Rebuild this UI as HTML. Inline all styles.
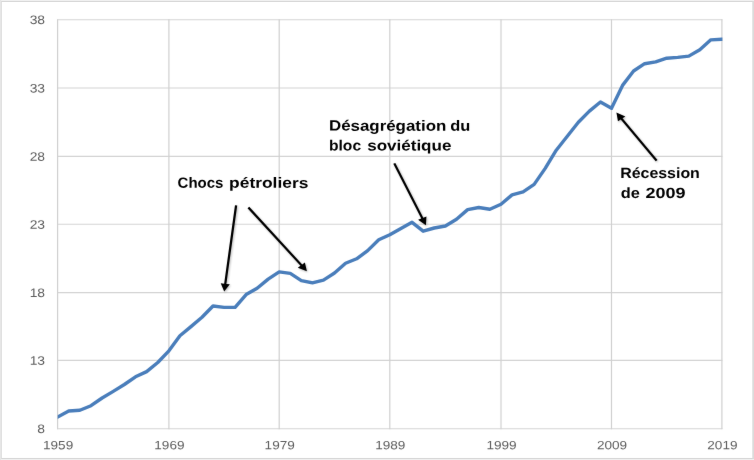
<!DOCTYPE html>
<html lang="fr">
<head>
<meta charset="utf-8">
<title>Émissions mondiales de CO2, 1959-2019</title>
<style>
html,body{margin:0;padding:0;background:#fff;}
body{width:754px;height:460px;overflow:hidden;}
svg{display:block;}
.ax{font-family:"Liberation Sans",sans-serif;font-size:12.0px;fill:#5e5e5e;}
.an{font-family:"Liberation Sans",sans-serif;font-weight:bold;fill:#000;}
</style>
</head>
<body>
<svg width="754" height="460" viewBox="0 0 754 460">
<defs><filter id="soft" x="0" y="0" width="754" height="460" filterUnits="userSpaceOnUse" color-interpolation-filters="sRGB"><feConvolveMatrix order="3" kernelMatrix="0.0025 0.0450 0.0025 0.0450 0.8100 0.0450 0.0025 0.0450 0.0025" divisor="1" edgeMode="duplicate" preserveAlpha="false"/></filter>
<filter id="shadow" x="0" y="0" width="754" height="460" filterUnits="userSpaceOnUse"><feGaussianBlur stdDeviation="1.3"/></filter>
<clipPath id="plot"><rect x="57.70" y="0" width="664.70" height="460"/></clipPath></defs>
<rect x="0" y="0" width="754" height="460" fill="#fff"/>
<rect x="0" y="0" width="754" height="1" fill="#f3f3f3"/>
<rect x="0" y="459" width="754" height="1" fill="#efefef"/>
<rect x="0" y="0.9" width="754" height="1.1" fill="#d8d8d8"/>
<rect x="0" y="457.95" width="754" height="1.05" fill="#d8d8d8"/>
<rect x="0" y="0" width="1" height="460" fill="#e6e6e6"/>
<rect x="1" y="0.9" width="0.85" height="458.1" fill="#dcdcdc"/>
<rect x="752.3" y="0.9" width="1.7" height="458.1" fill="#dbdbdb"/>
<g filter="url(#soft)">
<g stroke="#d0d0d0" stroke-width="1.2" fill="none">
<line x1="57.10" y1="19.70" x2="722.40" y2="19.70" stroke="#d4d4d4" stroke-width="1.12"/>
<line x1="57.10" y1="88.05" x2="722.40" y2="88.05" stroke="#d4d4d4" stroke-width="1.12"/>
<line x1="57.10" y1="156.40" x2="722.40" y2="156.40" stroke="#d4d4d4" stroke-width="1.12"/>
<line x1="57.10" y1="224.30" x2="722.40" y2="224.30" stroke="#d4d4d4" stroke-width="1.12"/>
<line x1="57.10" y1="292.60" x2="722.40" y2="292.60" stroke="#d4d4d4" stroke-width="1.12"/>
<line x1="57.10" y1="360.40" x2="722.40" y2="360.40" stroke="#d4d4d4" stroke-width="1.12"/>
<line x1="57.10" y1="428.70" x2="722.40" y2="428.70" stroke="#d4d4d4" stroke-width="1.12"/>
<line x1="57.60" y1="19.20" x2="57.60" y2="429.20"/>
<line x1="168.90" y1="19.20" x2="168.90" y2="429.20"/>
<line x1="279.20" y1="19.20" x2="279.20" y2="429.20"/>
<line x1="389.80" y1="19.20" x2="389.80" y2="429.20"/>
<line x1="501.00" y1="19.20" x2="501.00" y2="429.20"/>
<line x1="611.50" y1="19.20" x2="611.50" y2="429.20"/>
<line x1="721.90" y1="19.20" x2="721.90" y2="429.20"/>
</g>
<polyline points="54.60,418.63 57.60,417.00 68.73,410.95 79.86,410.30 90.99,405.70 102.12,398.00 113.25,391.40 124.38,384.50 135.51,376.80 146.64,371.60 157.77,362.50 168.90,350.80 179.93,335.70 190.96,326.60 201.99,317.30 213.02,306.00 224.05,307.40 235.08,307.40 246.11,294.60 257.14,288.30 268.17,279.10 279.20,271.90 290.26,273.40 301.32,280.60 312.38,282.80 323.44,280.10 334.50,273.00 345.56,263.30 356.62,258.80 367.68,250.60 378.74,239.70 389.80,234.70 400.92,228.40 412.04,222.30 423.16,231.20 434.28,228.00 445.40,226.00 456.52,219.30 467.64,209.60 478.76,207.50 489.88,209.20 501.00,204.20 512.05,194.90 523.10,191.95 534.15,184.40 545.20,168.40 556.25,150.20 567.30,136.20 578.35,122.20 589.40,111.10 600.45,102.00 611.50,108.30 622.54,85.40 633.58,71.00 644.62,63.70 655.66,61.85 666.70,58.20 677.74,57.40 688.78,56.10 699.82,49.70 710.86,39.85 721.90,39.25 724.90,39.09" fill="none" stroke="#4a7ebb" stroke-width="3.4"  stroke-linejoin="round" stroke-linecap="butt" clip-path="url(#plot)"/>
<g class="ax" style="font-size:12.3px">
<text transform="translate(45.05 24.10) rotate(0.1) scale(1.1250 1)" text-anchor="end">38</text>
<text transform="translate(45.05 92.45) rotate(0.1) scale(1.1250 1)" text-anchor="end">33</text>
<text transform="translate(45.05 160.80) rotate(0.1) scale(1.1250 1)" text-anchor="end">28</text>
<text transform="translate(45.05 228.70) rotate(0.1) scale(1.1250 1)" text-anchor="end">23</text>
<text transform="translate(45.05 297.00) rotate(0.1) scale(1.1250 1)" text-anchor="end">18</text>
<text transform="translate(45.05 364.80) rotate(0.1) scale(1.1250 1)" text-anchor="end">13</text>
<text transform="translate(45.05 433.10) rotate(0.1) scale(1.1250 1)" text-anchor="end">8</text>
</g>
<g class="ax">
<text transform="translate(58.10 449.20) rotate(0.1) scale(1.1300 1)" text-anchor="middle">1959</text>
<text transform="translate(169.40 449.20) rotate(0.1) scale(1.1300 1)" text-anchor="middle">1969</text>
<text transform="translate(279.70 449.20) rotate(0.1) scale(1.1300 1)" text-anchor="middle">1979</text>
<text transform="translate(390.30 449.20) rotate(0.1) scale(1.1300 1)" text-anchor="middle">1989</text>
<text transform="translate(501.50 449.20) rotate(0.1) scale(1.1300 1)" text-anchor="middle">1999</text>
<text transform="translate(612.00 449.20) rotate(0.1) scale(1.1300 1)" text-anchor="middle">2009</text>
<text transform="translate(722.40 449.20) rotate(0.1) scale(1.1300 1)" text-anchor="middle">2019</text>
</g>
<g fill="#000" opacity="0.28" transform="translate(0.9 1.1)" filter="url(#shadow)">
<polygon points="234.98,205.18 224.15,283.64 220.73,283.27 224.20,291.50 229.81,284.25 226.39,283.88 237.22,205.42"/>
<polygon points="247.52,208.13 300.46,265.78 297.79,267.70 306.90,271.20 304.89,262.59 302.22,264.52 249.28,206.87"/>
<polygon points="393.27,163.71 421.24,218.50 418.10,219.76 425.90,225.20 426.44,216.42 423.30,217.68 395.33,162.89"/>
<polygon points="657.51,160.00 622.56,118.27 625.32,116.45 616.40,112.60 617.97,121.28 620.74,119.46 655.69,161.20"/>
</g>
<g fill="#000">
<polygon points="234.98,205.18 224.15,283.64 220.73,283.27 224.20,291.50 229.81,284.25 226.39,283.88 237.22,205.42"/>
<polygon points="247.52,208.13 300.46,265.78 297.79,267.70 306.90,271.20 304.89,262.59 302.22,264.52 249.28,206.87"/>
<polygon points="393.27,163.71 421.24,218.50 418.10,219.76 425.90,225.20 426.44,216.42 423.30,217.68 395.33,162.89"/>
<polygon points="657.51,160.00 622.56,118.27 625.32,116.45 616.40,112.60 617.97,121.28 620.74,119.46 655.69,161.20"/>
</g>
<g class="an" style="font-size:14.8px">
<text y="187.70" transform="rotate(0.1 178.1 187.7)"><tspan x="177.63" textLength="45.78" lengthAdjust="spacingAndGlyphs">Chocs</tspan> <tspan x="229.11" textLength="79.29" lengthAdjust="spacingAndGlyphs">pétroliers</tspan></text>
<text y="130.60" transform="rotate(0.1 330.0 130.6)"><tspan x="328.94" textLength="117.37" lengthAdjust="spacingAndGlyphs">Désagrégation</tspan> <tspan x="450.29" textLength="20.06" lengthAdjust="spacingAndGlyphs">du</tspan></text>
<text y="150.40" transform="rotate(0.1 330.0 150.4)"><tspan x="329.03" textLength="32.06" lengthAdjust="spacingAndGlyphs">bloc</tspan> <tspan x="367.17" textLength="84.26" lengthAdjust="spacingAndGlyphs">soviétique</tspan></text>
<text y="178.00" transform="rotate(0.1 621.2 178.0)"><tspan x="620.20" textLength="79.66" lengthAdjust="spacingAndGlyphs">Récession</tspan></text>
<text y="198.00" transform="rotate(0.1 621.2 198.0)"><tspan x="620.69" textLength="19.12" lengthAdjust="spacingAndGlyphs">de</tspan> <tspan x="645.44" textLength="40.01" lengthAdjust="spacingAndGlyphs">2009</tspan></text>
</g>
</g>
</svg>
</body>
</html>
